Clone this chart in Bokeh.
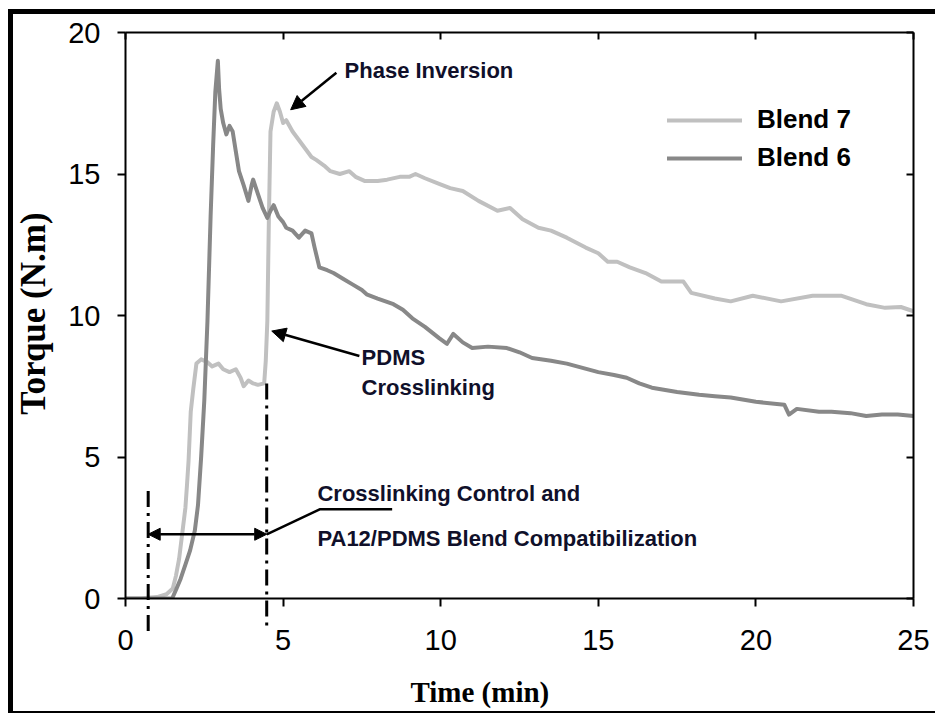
import math
from bokeh.plotting import figure
from bokeh.models import (Range1d, LinearAxis, FixedTicker, Arrow, NormalHead,
                          Label, Legend, LegendItem)
from bokeh.core.properties import value
from bokeh.embed import file_html
from bokeh.resources import INLINE

# ---------------- data ----------------
time_b6 = [0, 0.5, 1.0, 1.48, 1.6, 1.75, 1.9, 2.05, 2.2, 2.3, 2.4, 2.5, 2.6, 2.7, 2.78,
           2.85, 2.93, 2.97, 3.02, 3.1, 3.2, 3.3, 3.4, 3.5, 3.6, 3.75, 3.9, 4.0, 4.05,
           4.2, 4.35, 4.5, 4.6, 4.7, 4.85, 5.0, 5.1, 5.3, 5.5, 5.7, 5.9, 6.0, 6.15,
           6.4, 6.6, 6.9, 7.2, 7.5, 7.65, 8.0, 8.5, 8.8, 9.1, 9.5, 9.95, 10.2, 10.4,
           10.7, 11.0, 11.5, 12.1, 12.5, 12.9, 13.5, 14.0, 14.5, 15.0, 15.5, 15.9,
           16.3, 16.7, 17.5, 18.2, 18.7, 19.2, 20.0, 20.9, 21.05, 21.3, 22.0, 22.4,
           23.0, 23.5, 24.0, 24.5, 25.0]
torque_b6 = [0, 0, 0, 0, 0.3, 0.7, 1.2, 1.7, 2.4, 3.3, 5.0, 7.0, 9.8, 13.5, 16.0,
             17.9, 19.0, 18.0, 17.3, 16.8, 16.4, 16.7, 16.5, 15.8, 15.1, 14.6, 14.05, 14.6, 14.8,
             14.3, 13.8, 13.45, 13.7, 13.9, 13.5, 13.3, 13.1, 13.0, 12.75, 13.0, 12.9, 12.4, 11.7,
             11.6, 11.5, 11.3, 11.1, 10.9, 10.75, 10.6, 10.4, 10.2, 9.9, 9.6, 9.2, 9.0, 9.35,
             9.05, 8.85, 8.9, 8.85, 8.7, 8.5, 8.4, 8.3, 8.15, 8.0, 7.9, 7.8,
             7.6, 7.45, 7.3, 7.2, 7.15, 7.1, 6.95, 6.85, 6.5, 6.7, 6.6, 6.6,
             6.55, 6.45, 6.5, 6.5, 6.45]

time_b7 = [0, 0.5, 0.7, 1.0, 1.3, 1.5, 1.6, 1.7, 1.8, 1.9, 1.95, 2.0, 2.07, 2.15, 2.25,
           2.4, 2.6, 2.75, 2.95, 3.1, 3.3, 3.5, 3.65, 3.75, 3.9, 4.05, 4.2, 4.4, 4.45,
           4.5, 4.55, 4.6, 4.7, 4.8, 4.9, 5.0, 5.1, 5.3, 5.5, 5.7, 5.9, 6.05, 6.3, 6.5,
           6.8, 7.1, 7.3, 7.6, 8.0, 8.3, 8.7, 9.0, 9.2, 9.5, 9.95, 10.3, 10.7, 11.2,
           11.8, 12.2, 12.6, 13.1, 13.5, 14.0, 14.6, 15.0, 15.3, 15.6, 16.0, 16.5,
           17.0, 17.7, 17.95, 18.7, 19.2, 19.9, 20.8, 21.8, 22.7, 23.5, 24.1, 24.6, 25.0]
torque_b7 = [0, 0, 0.03, 0.05, 0.15, 0.35, 0.8, 1.4, 2.3, 3.2, 4.0, 4.85, 6.6, 7.4, 8.3,
             8.45, 8.35, 8.2, 8.3, 8.1, 8.0, 8.1, 7.8, 7.5, 7.7, 7.6, 7.55, 7.6, 8.4,
             9.8, 13.5, 16.5, 17.2, 17.5, 17.2, 16.8, 16.9, 16.5, 16.2, 15.9, 15.6, 15.5, 15.3, 15.1,
             15.0, 15.1, 14.9, 14.75, 14.75, 14.8, 14.9, 14.9, 15.0, 14.85, 14.65, 14.5, 14.4, 14.05,
             13.7, 13.8, 13.4, 13.1, 13.0, 12.75, 12.4, 12.2, 11.9, 11.9, 11.7, 11.5,
             11.2, 11.2, 10.8, 10.6, 10.5, 10.7, 10.5, 10.7, 10.7, 10.4, 10.27, 10.3, 10.15]

x_ticks = [0, 5, 10, 15, 20, 25]
y_ticks = [0, 5, 10, 15, 20]

series_labels = ["Blend 7", "Blend 6"]
series_colors = ["#c0c0c0", "#888888"]

x_title = "Time (min)"
y_title = "Torque (N.m)"

# annotation geometry (data units)
dash_x = [0.72, 4.48]
dash_top = [3.8, 7.6]
dash_bottom = [-1.25, -1.0]
span_y = 2.27
leader_x = [4.48, 6.16, 8.46]
leader_y = [2.27, 3.15, 3.15]

# ---------------- figure ----------------
p = figure(width=927, height=704, x_range=Range1d(0, 25), y_range=Range1d(0, 20),
           output_backend="svg", toolbar_location=None,
           min_border_left=112, min_border_right=27, min_border_top=18,
           min_border_bottom=120)
p.styles = {"border-left": "5px solid black", "border-top": "5px solid black",
            "border-bottom": "2px solid black",
            "margin-left": "8px", "margin-top": "9px"}
p.outline_line_color = None
p.xgrid.visible = False
p.ygrid.visible = False
p.background_fill_color = "white"
p.border_fill_color = "white"

TICK_FONT = "Liberation Sans"
for ax, ticks in ((p.xaxis[0], x_ticks), (p.yaxis[0], y_ticks)):
    ax.ticker = FixedTicker(ticks=ticks)
    ax.major_tick_in = 0
    ax.major_tick_out = 8
    ax.minor_tick_in = 0
    ax.minor_tick_out = 0
    ax.axis_line_width = 2
    ax.major_tick_line_width = 2
    ax.axis_line_color = "black"
    ax.major_tick_line_color = "black"
    ax.major_label_text_font = TICK_FONT
    ax.major_label_text_font_size = "29px"
    ax.major_label_text_color = "black"
p.yaxis[0].major_label_standoff = 17
p.xaxis[0].major_label_standoff = 23

for side, ticks in (("right", y_ticks), ("above", x_ticks)):
    ax = LinearAxis(ticker=FixedTicker(ticks=ticks), major_tick_in=7, major_tick_out=0,
                    minor_tick_in=0, minor_tick_out=0, axis_line_width=2,
                    major_tick_line_width=2, axis_line_color="black",
                    major_tick_line_color="black",
                    major_label_overrides={t: "" for t in ticks},
                    major_label_standoff=0)
    p.add_layout(ax, side)

# axis titles, placed like the reference (x title off-centre near the bottom edge)
TITLE = dict(text_font=value("Liberation Serif"), text_font_style="bold",
             text_color="black", level="overlay", text_baseline="middle")
p.text(x=[9.04], y=[-3.32], text=[x_title], text_align="left",
       text_font_size="29px", **TITLE)
p.text(x=[-2.92], y=[10.07], text=[y_title], text_align="center", angle=math.pi / 2,
       text_font_size="35px", **TITLE)

# ---------------- curves ----------------
r7 = p.line(time_b7, torque_b7, line_color=series_colors[0], line_width=4,
            line_join="round", line_cap="round")
r6 = p.line(time_b6, torque_b6, line_color=series_colors[1], line_width=4,
            line_join="round", line_cap="round")

legend = Legend(items=[LegendItem(label=series_labels[0], renderers=[r7]),
                       LegendItem(label=series_labels[1], renderers=[r6])],
                location=(542, 425), orientation="vertical",
                glyph_width=75, glyph_height=30, label_height=30, spacing=7,
                label_standoff=15, padding=0, margin=0,
                border_line_color=None, background_fill_alpha=0,
                label_text_font="Liberation Sans", label_text_font_style="bold",
                label_text_font_size="26px", label_text_color="black")
p.add_layout(legend)

# ---------------- annotations ----------------
ANN = dict(text_font="Liberation Sans", text_font_style="bold",
           text_font_size="22px", text_color="#10102a", text_baseline="middle")
p.add_layout(Label(x=6.95, y=18.65, text="Phase Inversion", **ANN))
p.add_layout(Label(x=7.49, y=8.5, text="PDMS", **ANN))
p.add_layout(Label(x=7.49, y=7.45, text="Crosslinking", **ANN))
p.add_layout(Label(x=6.09, y=3.72, text="Crosslinking Control and", **ANN))
p.add_layout(Label(x=6.09, y=2.12, text="PA12/PDMS Blend Compatibilization", **ANN))

p.add_layout(Arrow(end=NormalHead(size=14, fill_color="black", line_color="black"),
                   x_start=6.69, y_start=18.58, x_end=5.24, y_end=17.27,
                   line_width=2.5, line_color="black"))
p.add_layout(Arrow(end=NormalHead(size=14, fill_color="black", line_color="black"),
                   x_start=7.42, y_start=8.57, x_end=4.64, y_end=9.45,
                   line_width=2.5, line_color="black"))
p.add_layout(Arrow(start=NormalHead(size=12, fill_color="black", line_color="black"),
                   end=NormalHead(size=12, fill_color="black", line_color="black"),
                   x_start=dash_x[0], y_start=span_y, x_end=dash_x[1], y_end=span_y,
                   line_width=2.5, line_color="black"))
p.segment(x0=dash_x, y0=dash_top, x1=dash_x, y1=dash_bottom, line_width=3,
          line_color="black", line_dash="16 6 3 6", level="overlay")
p.line(leader_x, leader_y, line_color="black", line_width=2.5)

open("out.html", "w").write(file_html(p, INLINE))
